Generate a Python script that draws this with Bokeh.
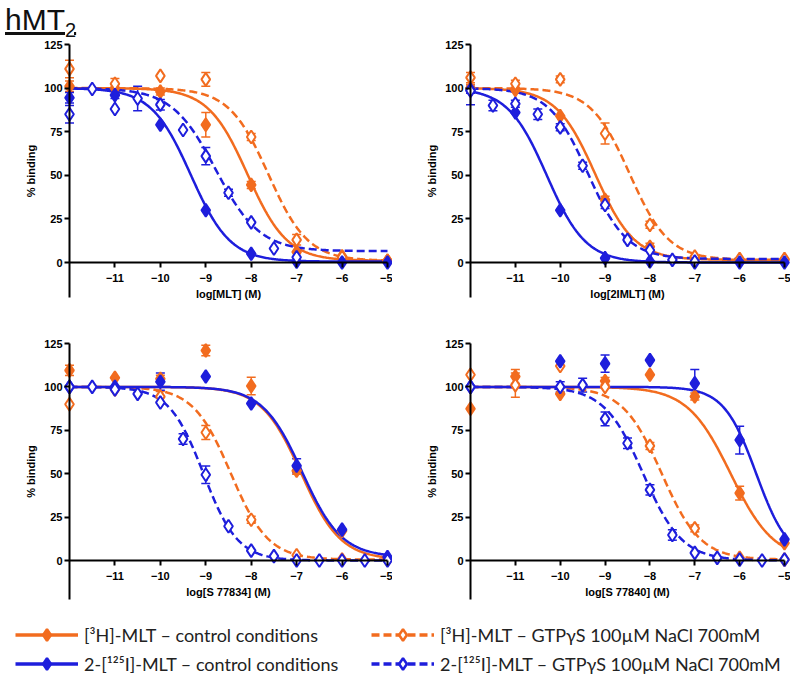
import numpy as np
from bokeh.plotting import figure
from bokeh.models import (ColumnDataSource, Whisker, TeeHead, FixedTicker, Range1d,
                          Div, Legend, LegendItem)
from bokeh.layouts import column, row
from bokeh.embed import file_html
from bokeh.resources import INLINE

ORANGE = "#F26C1F"
BLUE = "#1E1EDC"

Y_TICKS = [0, 25, 50, 75, 100, 125]
X_TICKS = [-11, -10, -9, -8, -7, -6, -5]
Y_LABEL = "% binding"
X_LABELS = ["log[MLT] (M)", "log[2IMLT] (M)", "log[S 77834] (M)", "log[S 77840] (M)"]
SERIES_LABELS = ["[³H]-MLT – control conditions",
                 "[³H]-MLT – GTPγS 100µM NaCl 700mM",
                 "2-[¹²⁵I]-MLT – control conditions",
                 "2-[¹²⁵I]-MLT – GTPγS 100µM NaCl 700mM"]

# ---------------- panel 1 : MLT ----------------
MLT_H3C_X = [-12, -11, -10, -9, -8, -7, -6, -5]
MLT_H3C_Y = [101, 100, 98, 79, 44.5, 6, 3.5, 1]
MLT_H3C_E = [3, 2, 2, 7, 2, 0, 0, 0]
MLT_H3G_X = [-12, -11, -10, -9, -8, -7, -6, -5]
MLT_H3G_Y = [111, 102.5, 107, 105, 72, 13, 3, 1]
MLT_H3G_E = [5, 3, 0, 4, 2, 3, 0, 0]
MLT_I1C_X = [-12, -11, -10, -9, -8, -7, -6, -5]
MLT_I1C_Y = [94.5, 96, 79, 30, 5, 0.5, 0, 0]
MLT_I1C_E = [3, 2, 0, 0, 0, 0, 0, 0]
MLT_I1G_X = [-12, -11.5, -11, -10.5, -10, -9.5, -9, -8.5, -8, -7.5, -7]
MLT_I1G_Y = [85, 99.5, 88, 94, 90.5, 76, 61, 40, 23, 8, 3]
MLT_I1G_E = [5, 0, 0, 7, 3, 0, 5, 2, 0, 0, 0]
# fit parameters: logIC50, bottom, top, hill
MLT_H3C_FIT = [-8.08, 1.0, 100, 1.0]
MLT_H3G_FIT = [-7.62, 1.0, 100, 1.0]
MLT_I1C_FIT = [-9.33, 0.5, 100, 1.0]
MLT_I1G_FIT = [-8.78, 6.5, 100, 0.9]

# ---------------- panel 2 : 2IMLT ----------------
IMLT_H3C_X = [-12, -11, -10, -9, -8, -7, -6, -5]
IMLT_H3C_Y = [100, 99, 84, 36, 9, 2.5, 1.5, 1.5]
IMLT_H3C_E = [2, 0, 0, 2, 2, 0, 0, 0]
IMLT_H3G_X = [-12, -11, -10, -9, -8, -7, -6, -5]
IMLT_H3G_Y = [106, 102.5, 105, 74, 21.6, 3.4, 2, 2]
IMLT_H3G_E = [3, 2, 2, 6, 2, 0, 0, 0]
IMLT_I1C_X = [-12, -11, -10, -9, -8, -7, -6, -5]
IMLT_I1C_Y = [99, 86, 30, 2.5, 0.6, 0, 0, 0]
IMLT_I1C_E = [2, 0, 0, 0, 0, 0, 0, 0]
IMLT_I1G_X = [-12, -11.5, -11, -10.5, -10, -9.5, -9, -8.5, -8, -7.5, -7]
IMLT_I1G_Y = [98.5, 90, 91, 85, 77.5, 55.5, 33, 13, 7, 1.5, 0.6]
IMLT_I1G_E = [8, 3, 2, 3, 2, 2, 2, 1, 0, 0, 0]
IMLT_H3C_FIT = [-9.22, 1.5, 100, 1.0]
IMLT_H3G_FIT = [-8.45, 1.5, 100, 1.0]
IMLT_I1C_FIT = [-10.3, 0.0, 100, 1.0]
IMLT_I1G_FIT = [-9.38, 2.0, 100, 1.0]

# ---------------- panel 3 : S 77834 ----------------
S34_H3C_X = [-12, -11, -10, -9, -8, -7, -6, -5]
S34_H3C_Y = [109.5, 105.3, 104.7, 121, 100.5, 51.7, 17, 1]
S34_H3C_E = [3, 0, 2, 3, 5, 2, 0, 0]
S34_H3G_X = [-12, -11, -10, -9, -8, -7, -6, -5]
S34_H3G_Y = [90, 98.6, 94.4, 73.7, 23.5, 3, 0.5, 0.5]
S34_H3G_E = [0, 0, 3, 4, 2, 0, 0, 0]
S34_I1C_X = [-12, -11, -10, -9, -8, -7, -6, -5]
S34_I1C_Y = [100, 100, 103, 106, 90.4, 54.6, 17.8, 2]
S34_I1C_E = [0, 0, 5, 0, 0, 4, 0, 0]
S34_I1G_X = [-12, -11.5, -11, -10.5, -10, -9.5, -9, -8.5, -8, -7.5, -7, -6.5, -6, -5.5, -5]
S34_I1G_Y = [100, 100, 98.6, 96, 91, 70, 49.4, 19.7, 5.7, 2.5, 0, 0, 0, 0, 0]
S34_I1G_E = [0, 0, 0, 0, 0, 3, 5, 0, 0, 0, 0, 0, 0, 0, 0]
S34_H3C_FIT = [-6.9, 0.5, 100, 1.0]
S34_H3G_FIT = [-8.45, 0.5, 100, 1.05]
S34_I1C_FIT = [-6.88, 2.0, 100, 1.0]
S34_I1G_FIT = [-9.05, 0.0, 100, 1.15]

# ---------------- panel 4 : S 77840 ----------------
S40_H3C_X = [-12, -11, -10, -9, -8, -7, -6, -5]
S40_H3C_Y = [87.4, 106, 96, 103.4, 107, 94.5, 38.8, 10]
S40_H3C_E = [0, 4, 0, 2, 0, 2, 4, 0]
S40_H3G_X = [-12, -11, -10, -9, -8, -7, -6, -5]
S40_H3G_Y = [107, 101, 112, 100, 66, 18.5, 1.5, 0.5]
S40_H3G_E = [0, 7, 0, 0, 2, 2, 0, 0]
S40_I1C_X = [-12, -10, -9, -8, -7, -6, -5]
S40_I1C_Y = [100, 114.8, 113.4, 115.4, 102, 69.4, 12.2]
S40_I1C_E = [0, 0, 5, 0, 8, 8, 0]
S40_I1G_X = [-12, -10, -9.5, -9, -8.5, -8, -7.5, -7, -6.5, -6, -5.5, -5]
S40_I1G_Y = [100, 100, 101, 81.6, 67.5, 40.7, 14.7, 4.4, 1.5, 0.5, 0, 0.5]
S40_I1G_E = [0, 3, 4, 4, 3, 3, 3, 0, 0, 0, 0, 0]
S40_H3C_FIT = [-6.2, 0.0, 100, 0.9]
S40_H3G_FIT = [-7.74, 0.5, 100, 1.0]
S40_I1C_FIT = [-5.63, 0.0, 100, 1.2]
S40_I1G_FIT = [-8.15, 0.0, 100, 1.0]

STYLES = [(ORANGE, "solid", True), (ORANGE, "8 4", False),
          (BLUE, "solid", True), (BLUE, "8 4", False)]

PANELS = [
    [(MLT_H3C_X, MLT_H3C_Y, MLT_H3C_E, MLT_H3C_FIT), (MLT_H3G_X, MLT_H3G_Y, MLT_H3G_E, MLT_H3G_FIT),
     (MLT_I1C_X, MLT_I1C_Y, MLT_I1C_E, MLT_I1C_FIT), (MLT_I1G_X, MLT_I1G_Y, MLT_I1G_E, MLT_I1G_FIT)],
    [(IMLT_H3C_X, IMLT_H3C_Y, IMLT_H3C_E, IMLT_H3C_FIT), (IMLT_H3G_X, IMLT_H3G_Y, IMLT_H3G_E, IMLT_H3G_FIT),
     (IMLT_I1C_X, IMLT_I1C_Y, IMLT_I1C_E, IMLT_I1C_FIT), (IMLT_I1G_X, IMLT_I1G_Y, IMLT_I1G_E, IMLT_I1G_FIT)],
    [(S34_H3C_X, S34_H3C_Y, S34_H3C_E, S34_H3C_FIT), (S34_H3G_X, S34_H3G_Y, S34_H3G_E, S34_H3G_FIT),
     (S34_I1C_X, S34_I1C_Y, S34_I1C_E, S34_I1C_FIT), (S34_I1G_X, S34_I1G_Y, S34_I1G_E, S34_I1G_FIT)],
    [(S40_H3C_X, S40_H3C_Y, S40_H3C_E, S40_H3C_FIT), (S40_H3G_X, S40_H3G_Y, S40_H3G_E, S40_H3G_FIT),
     (S40_I1C_X, S40_I1C_Y, S40_I1C_E, S40_I1C_FIT), (S40_I1G_X, S40_I1G_Y, S40_I1G_E, S40_I1G_FIT)],
]

FONT = "Liberation Sans"
LEFT_W = 392
RIGHT_W = 398
TOP_H = 262
BOT_H = 304
PAGE_X0 = 1      # observed left edge of layout in screenshot
ROW1_Y0 = 40
ROW2_Y0 = 302


def rng(frame_lo, frame_hi, a_px, a_val, b_px, b_val):
    k = (b_px - a_px) / (b_val - a_val)
    return a_val + (frame_lo - a_px) / k, a_val + (frame_hi - a_px) / k


def make_panel(i, series, xlabel):
    left = (i % 2 == 0)
    top = (i < 2)
    if left:
        w = LEFT_W
        fx0 = PAGE_X0
        x0, x1 = rng(fx0, fx0 + w, 70, -12, 388, -5)
    else:
        w = RIGHT_W
        fx0 = PAGE_X0 + LEFT_W
        x0, x1 = rng(fx0, fx0 + w, 471, -12, 785, -5)
    if top:
        h = TOP_H
        y1, y0 = rng(ROW1_Y0, ROW1_Y0 + h, 45, 125, 263, 0)
        ybot = -20
    else:
        h = BOT_H
        y1, y0 = rng(ROW2_Y0, ROW2_Y0 + h, 344, 125, 561, 0)
        ybot = -22.5
    p = figure(width=w, height=h, x_range=Range1d(x0, x1), y_range=Range1d(y0, y1),
               output_backend="svg", toolbar_location=None,
               min_border_left=0, min_border_right=0, min_border_top=0, min_border_bottom=0)
    p.outline_line_color = None
    p.grid.visible = False
    p.background_fill_color = "white"
    p.border_fill_color = "white"
    xa = p.xaxis[0]
    ya = p.yaxis[0]
    xa.fixed_location = 0
    ya.fixed_location = -12
    xa.bounds = (-12, -5)
    ya.bounds = (ybot, 125)
    xa.ticker = FixedTicker(ticks=X_TICKS)
    ya.ticker = FixedTicker(ticks=Y_TICKS)
    xa.axis_label = xlabel
    ya.axis_label = Y_LABEL
    for ax in (xa, ya):
        ax.axis_line_width = 2
        ax.axis_line_color = "black"
        ax.major_tick_line_width = 2
        ax.major_tick_out = 5
        ax.major_tick_in = 0
        ax.minor_tick_line_color = None
        ax.major_label_text_font = FONT
        ax.major_label_text_font_style = "bold"
        ax.major_label_text_font_size = "11px"
        ax.major_label_text_color = "black"
        ax.axis_label_text_font = FONT
        ax.axis_label_text_font_style = "bold"
        ax.axis_label_text_font_size = "11px"
        ax.axis_label_text_color = "black"
    xa.major_label_standoff = 6
    xa.axis_label_standoff = 3
    ya.major_label_standoff = 2
    ya.axis_label_standoff = 4

    xs_fit = np.linspace(-12, -5, 300)
    for (xs, ys, es, fit), (color, dash, filled) in zip(series, STYLES):
        logic50, bottom, topv, hill = fit
        yf = bottom + (topv - bottom) / (1 + 10 ** ((xs_fit - logic50) * hill))
        p.line(xs_fit, yf, line_color=color, line_width=2.5, line_dash=dash)
    for (xs, ys, es, fit), (color, dash, filled) in zip(series, STYLES):
        bx = [x for x, e in zip(xs, es) if e > 0]
        lo = [y - e for y, e in zip(ys, es) if e > 0]
        hi = [y + e for y, e in zip(ys, es) if e > 0]
        if bx:
            src = ColumnDataSource(dict(x=bx, lo=lo, hi=hi))
            wk = Whisker(base="x", lower="lo", upper="hi", source=src, dimension="height",
                         line_color=color, line_width=1.5,
                         upper_head=TeeHead(size=9, line_color=color, line_width=1.5),
                         lower_head=TeeHead(size=9, line_color=color, line_width=1.5))
            p.add_layout(wk)
    for (xs, ys, es, fit), (color, dash, filled) in zip(series, STYLES):
        p.scatter(xs, ys, marker="diamond", size=13, line_color=color, line_width=2,
                  fill_color=color if filled else "white")
    return p


panels = [make_panel(i, PANELS[i], X_LABELS[i]) for i in range(4)]

title = Div(text='<span style="font-family:\'Liberation Sans\',Arial,sans-serif;font-size:30px;'
                 'line-height:30px;text-decoration:underline;color:#111;">hMT'
                 '<span style="font-size:20px;vertical-align:-7px;">2</span></span>',
            width=784, height=29)

LEG_H = 73
lg = figure(width=LEFT_W + RIGHT_W, height=LEG_H, x_range=Range1d(0, 1), y_range=Range1d(0, 1),
            output_backend="svg", toolbar_location=None,
            min_border_left=0, min_border_right=0, min_border_top=0, min_border_bottom=0)
lg.axis.visible = False
lg.grid.visible = False
lg.outline_line_color = None
rend = {}
for label, (color, dash, filled) in zip(SERIES_LABELS, STYLES):
    r1 = lg.line(x=[5, 6], y=[5, 6], line_color=color, line_width=3.5, line_dash=dash)
    r2 = lg.scatter(x=[5], y=[5], marker="diamond", size=15, line_color=color, line_width=2.5,
                    fill_color=color if filled else "white")
    rend[label] = LegendItem(label=label, renderers=[r1, r2])
# column-major order: left column = control conditions, right column = GTPγS
order = [SERIES_LABELS[0], SERIES_LABELS[2], SERIES_LABELS[1], SERIES_LABELS[3]]
leg = Legend(items=[rend[k] for k in order], ncols=2, location=(15, 0), padding=0, margin=0,
             spacing=0, glyph_width=63, glyph_height=29, label_height=29, label_width=287,
             label_standoff=6, border_line_color=None, background_fill_alpha=0,
             label_text_font="Lato", label_text_font_size="18px", label_text_color="#222")
lg.add_layout(leg)

layout = column(title, row(panels[0], panels[1]), row(panels[2], panels[3]), lg)

with open("out.html", "w") as f:
    f.write(file_html(layout, INLINE))
